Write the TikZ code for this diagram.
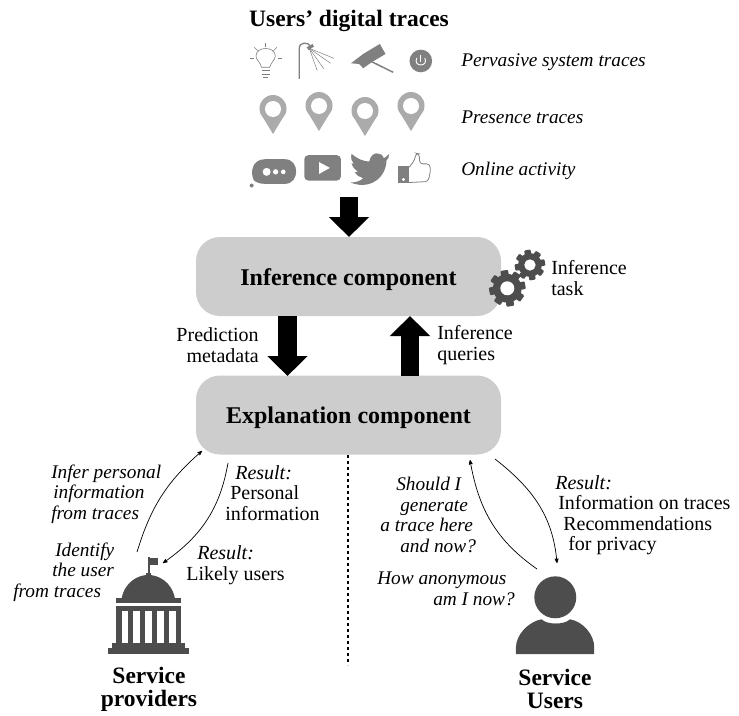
\documentclass[tikz,border=0pt]{standalone}
\usepackage{fontspec}
\setmainfont{Liberation Serif}
\usetikzlibrary{arrows, arrows.meta, positioning}
\definecolor{boxgray}{HTML}{CDCDCD}
\definecolor{pingray}{HTML}{ABABAB}
\definecolor{icongray}{HTML}{808080}
\definecolor{darkicon}{HTML}{4D4D4D}

\begin{document}
\begin{tikzpicture}[x=1pt,y=-1pt,>=stealth',semithick]
 \tikzstyle{component}=[fill=boxgray,rounded corners=24pt,minimum width=305pt,minimum height=79pt,font=\fontsize{24}{27}\selectfont\bfseries]
 \tikzstyle{label}=[font=\fontsize{20}{20.5}\selectfont,inner sep=0pt]
 \tikzstyle{query}=[label,font=\fontsize{19.3}{20.5}\selectfont\itshape]
 \tikzstyle{title}=[font=\fontsize{23.5}{23}\selectfont\bfseries,inner sep=0pt,align=center]
 \tikzstyle{blockarrow}=[-{Triangle[length=20pt,width=39pt]},line width=18.5pt,black]
 \tikzstyle{thinarrow}=[->,black,line width=0.7pt]

 \useasboundingbox (0,0) rectangle (739,715);

 \node[title] (traces) at (349,21) {Users' digital traces};
 \node[query,anchor=west] (pervasive) at (461,62) {Pervasive system traces};
 \node[query,anchor=west] (presence) at (461,117) {Presence traces};
 \node[query,anchor=west] (online) at (461,171) {Online activity};

 % pervasive icons, in crop coordinates
 \begin{scope}[shift={(230,30)},x=0.333pt,y=-0.333pt]
  \draw[icongray,line width=0.6pt] (95,112) .. controls (90,95) and (78,90) .. (78,78) .. controls (78,48) and (136,48) .. (136,78) .. controls (136,90) and (124,95) .. (119,112) -- cycle;
  \draw[icongray,line width=0.6pt] (95,122) -- (119,122) (95,132) -- (119,132) (100,142) -- (114,142);
  \foreach \xa/\ya/\xb/\yb in {107/40/107/52, 73/52/83/62, 141/52/131/62, 60/85/72/85, 143/85/155/85}
   \draw[icongray,line width=0.6pt] (\xa,\ya) -- (\xb,\yb);
  \draw[icongray,line width=1.3pt] (208,147) -- (208,55) .. controls (208,35) and (235,35) .. (243,50);
  \fill[icongray] (230,52) -- (248,42) -- (252,50) -- (236,60) -- cycle;
  \foreach \xb/\yb in {312/85,302/100,282/117,262/122}
   \draw[icongray,line width=0.5pt] (238,55) -- (\xb,\yb);
  \fill[icongray] (363,100) -- (400,72) -- (450,42) -- (467,72) -- (425,97) -- (400,115) -- (388,102) -- cycle;
  \draw[icongray,line width=1.5pt] (425,95) -- (490,127);
  \fill[icongray] (573,93) circle (34);
  \draw[white,line width=0.9pt] (561,84) .. controls (548,112) and (598,112) .. (585,84);
  \draw[white,line width=0.9pt] (573,76) -- (573,95);
  % online icons
  \fill[icongray] (105,388) -- (165,388) .. controls (210,388) and (210,462) .. (165,462) -- (105,462) .. controls (90,462) and (80,458) .. (72,452) .. controls (60,430) and (65,388) .. (105,388) -- cycle;
  \fill[icongray] (65,467) circle (6);
  \foreach \xa/\ra in {110/12,137/8,160/7}
   \fill[white] (\xa,426) circle (\ra);
  \fill[icongray,rounded corners=4pt] (223,376) rectangle (333,452);
  \fill[white] (268,397) -- (300,414) -- (268,432) -- cycle;
  \fill[icongray] (478,372) .. controls (472,378) and (468,382) .. (462,385) .. controls (455,365) and (425,362) .. (418,395) .. controls (400,395) and (380,385) .. (365,372) .. controls (362,385) and (365,395) .. (372,402) -- (365,400) .. controls (368,412) and (375,420) .. (385,425) -- (375,427) .. controls (380,437) and (390,442) .. (400,445) .. controls (390,455) and (375,458) .. (362,458) .. controls (395,472) and (440,468) .. (462,425) .. controls (468,412) and (470,400) .. (470,392) .. controls (475,388) and (478,380) .. (478,372) -- cycle;
  \fill[icongray] (505,408) rectangle (537,460);
  \fill[white] (521,449) circle (5);
  \draw[icongray,line width=0.8pt,rounded corners=3pt] (538,412) -- (555,390) -- (558,370) -- (568,372) -- (570,402) -- (600,402) -- (602,425) -- (595,455) -- (538,458);
 \end{scope}

 % presence pins
 \foreach \px/\py in {273/95, 319/92, 365/97, 411/92} {
  \fill[pingray] (\px,\py+13.5) circle (13.5);
  \fill[pingray] (\px-13,\py+17.5) -- (\px,\py+39) -- (\px+13,\py+17.5) -- cycle;
  \fill[white] (\px,\py+14) circle (8);
 }

 \node[component] (inference) at (348.5,276.5) {\raisebox{-8.5pt}[0pt][0pt]{Inference component}};
 \node[component] (explanation) at (348.5,415) {\raisebox{-8.5pt}[0pt][0pt]{Explanation component}};

 \coordinate (tracesin) at (349,197);
 \coordinate (tracesout) at (349,237);
 \coordinate (predtop) at (287.5,316);
 \coordinate (predbot) at (287.5,376);
 \coordinate (querybot) at (410,376);
 \coordinate (querytop) at (410,316);
 \draw[blockarrow] (tracesin) -- (tracesout);
 \draw[blockarrow] (predtop) -- (predbot);
 \draw[blockarrow] (querybot) -- (querytop);

 % gears
 \begin{scope}[shift={(480,240)},x=0.333pt,y=-0.333pt]
  \foreach \gx/\gy/\gr/\gh in {150/75/36/17, 82/145/43/21} {
   \fill[darkicon] (\gx,\gy) circle (\gr);
   \foreach \a in {0,45,...,315}
    \fill[darkicon,rotate around={\a+10:(\gx,\gy)},rounded corners=1pt] (\gx-\gr*0.27,\gy-\gr*0.9) rectangle (\gx+\gr*0.27,\gy-\gr*1.27);
   \fill[white] (\gx,\gy) circle (\gh);
  }
 \end{scope}
 \node[label,anchor=west,align=left] (task) at (551,278) {Inference\\task};
 \node[label,anchor=east,align=right] (prediction) at (259,345) {Prediction\\metadata};
 \node[label,anchor=west,align=left] (queries) at (437,345) {Inference\\queries};

 \coordinate (dashtop) at (348,455);
 \coordinate (dashbot) at (348,665);
 \draw[dashed,black,line width=1.3pt] (dashtop) -- (dashbot);

 % building
 \begin{scope}[shift={(100,520)},x=0.333pt,y=-0.333pt]
  \fill[darkicon] (23,385) rectangle (268,403);
  \fill[darkicon] (35,370) rectangle (255,385);
  \fill[darkicon] (47,258) rectangle (243,370);
  \foreach \wx in {65,100,136,172,208}
   \fill[white] (\wx,272) rectangle (\wx+19,368);
  \fill[darkicon] (47,235) rectangle (243,250);
  \fill[darkicon] (65,235) .. controls (75,185) and (115,165) .. (145,165) .. controls (175,165) and (215,185) .. (225,235) -- cycle;
  \fill[darkicon] (137,160) rectangle (153,170);
  \fill[darkicon] (143,110) rectangle (150,165);
  \fill[darkicon] (150,115) rectangle (175,135);
 \end{scope}
 % person
 \begin{scope}[shift={(500,560)},x=0.333pt,y=-0.333pt]
  \fill[darkicon] (166,112) circle (63);
  \fill[darkicon] (48,283) -- (48,262) .. controls (48,225) and (85,185) .. (125,178) .. controls (140,195) and (195,195) .. (210,178) .. controls (250,185) and (283,225) .. (283,262) -- (283,283) -- cycle;
 \end{scope}

 \coordinate (providerq) at (137,552);
 \coordinate (explainl) at (202,451);
 \coordinate (explainr) at (228,463);
 \coordinate (provider) at (163,563);
 \coordinate (userq) at (537,569);
 \coordinate (explainq) at (470,460);
 \coordinate (explaina) at (495,459);
 \coordinate (user) at (557,563);
 \path (providerq) edge[thinarrow,out=73,in=221] (explainl)
       (explainr) edge[thinarrow,out=-100,in=35] (provider)
       (userq) edge[thinarrow,out=145,in=-80] (explainq)
       (explaina) edge[thinarrow,out=-38,in=95] (user);

 \node[query,align=left,anchor=west] (inferq) at (51,494) {Infer personal\\\hspace{2pt}information\\from traces};
 \node[query,align=left,anchor=west] (identify) at (13,572) {\hspace{42pt}Identify\\\hspace{39pt}the user\\from traces};
 \node[label,align=left,anchor=west] (result1) at (225,493) {\hspace{10pt}\textit{Result:}\\\hspace{5pt}Personal\\information};
 \node[label,align=left,anchor=west] (result2) at (186,565) {\hspace{11pt}\textit{Result:}\\Likely users};
 \node[query,align=left,anchor=west] (should) at (380,515) {\hspace{16pt}Should I\\\hspace{20pt}generate\\a trace here\\\hspace{20pt}and now?};
 \node[query,align=left,anchor=west] (anonymous) at (377,589) {How anonymous\\\hspace{56pt}am I now?};
 \node[label,align=left,anchor=west] (result3) at (555,515) {\textit{Result:}\\\hspace{3pt}Information on traces\\\hspace{8pt}Recommendations\\\hspace{13pt}for privacy};

 \node[title] (providers) at (149,689) {Service\\providers};
 \node[title] (users) at (555,689) {Service\\Users};
\end{tikzpicture}
\end{document}
